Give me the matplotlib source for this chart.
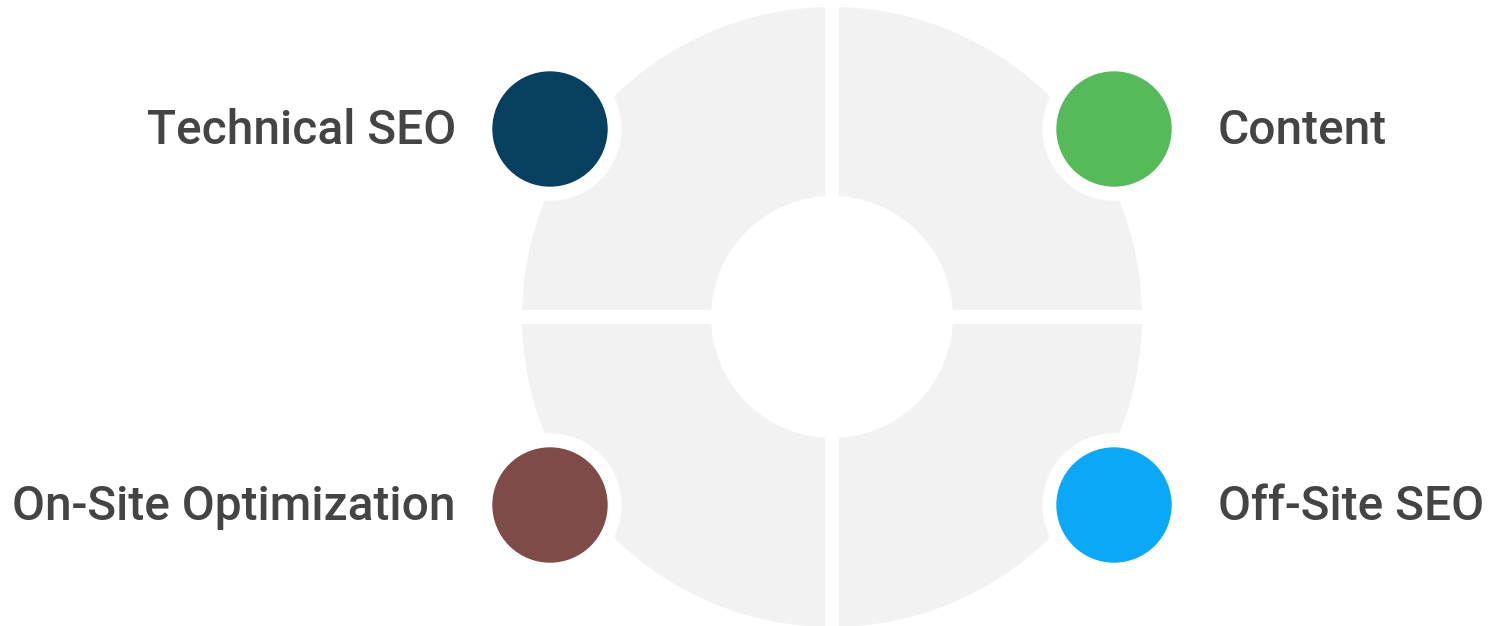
import matplotlib
matplotlib.use("Agg")
import matplotlib.pyplot as plt
from matplotlib.patches import Circle

# Chart data
labels = ["Technical SEO", "Content", "On-Site Optimization", "Off-Site SEO"]
colors = ["#073f5e", "#56b95a", "#7f4b49", "#0ba8f8"]
shares = [1, 1, 1, 1]

# Layout (pixel coordinates, y downwards)
W, H = 1488, 626
cx, cy = 832, 317
outer_r, hole_r, gap = 310, 121, 14
dx, dy = 282, 188
node_r, ring_r = 57, 71

fig = plt.figure(figsize=(W / 100, H / 100), dpi=100)
ax = fig.add_axes([0, 0, 1, 1])

# Grey ring split into four quadrants by white gaps
gap_pt = gap * 72 / 100
ax.pie(shares, center=(cx, cy), radius=outer_r + gap / 2, startangle=0,
       colors=["#f2f2f2"] * 4,
       wedgeprops=dict(width=outer_r - hole_r + gap, edgecolor="white",
                       linewidth=gap_pt))

# Nodes: top-left, top-right, bottom-left, bottom-right
signs = [(-1, -1), (1, -1), (-1, 1), (1, 1)]
for lab, col, (sx, sy) in zip(labels, colors, signs):
    x, y = cx + sx * dx, cy + sy * dy
    ax.add_patch(Circle((x, y), ring_r, color="white", zorder=3))
    ax.add_patch(Circle((x, y), node_r, color=col, zorder=4))
    tx = x - 94 if sx < 0 else x + 104
    ax.text(tx, y + 15, lab, ha="right" if sx < 0 else "left", va="baseline",
            fontsize=34.5, fontfamily=["Roboto Medium", "Roboto"],
            fontweight="medium", color="#444444", zorder=5)

ax.set_xlim(0, W)
ax.set_ylim(H, 0)
ax.set_aspect("equal")
ax.axis("off")

plt.savefig("out.png", dpi=100)
